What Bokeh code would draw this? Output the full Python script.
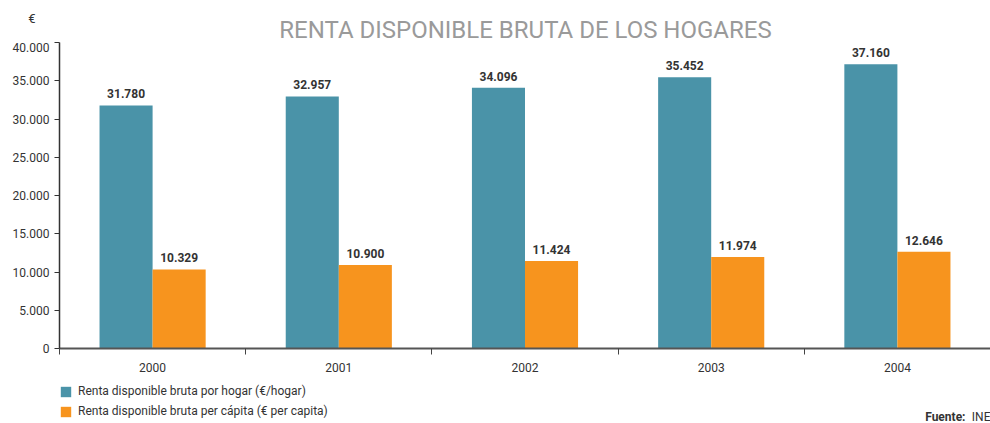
from bokeh.plotting import figure
from bokeh.layouts import column
from bokeh.models import (ColumnDataSource, Range1d, FixedTicker, CustomJSTickFormatter,
                          LabelSet, Label, Legend, LegendItem, LinearAxis)
from bokeh.core.properties import value
from bokeh.embed import file_html
from bokeh.resources import INLINE
import numpy as np

years = ["2000", "2001", "2002", "2003", "2004"]
por_hogar = [31780, 32957, 34096, 35452, 37160]
per_capita = [10329, 10900, 11424, 11974, 12646]
y_ticks = [0, 5000, 10000, 15000, 20000, 25000, 30000, 35000, 40000]
series_names = ["Renta disponible bruta por hogar (€/hogar)",
                "Renta disponible bruta per cápita (€ per capita)"]
title_text = "RENTA DISPONIBLE BRUTA DE LOS HOGARES"
unit_text = "€"

TEAL = "#4A93A8"
ORANGE = "#F7941E"
FONT = "Roboto"
W = 990

def fmt(v):
    return f"{v:,}".replace(",", ".")

def blank(h):
    f = figure(width=W, height=h, output_backend="svg", toolbar_location=None,
               x_range=Range1d(0, 1), y_range=Range1d(0, h),
               x_axis_type=None, y_axis_type=None,
               min_border_left=59, min_border_right=0, min_border_top=0, min_border_bottom=0)
    f.outline_line_color = None
    f.grid.visible = False
    return f

pos = np.arange(len(years)) + 0.5
off = 0.1425
bw = 0.285

src = ColumnDataSource(dict(
    x1=pos - off, x2=pos + off,
    h=por_hogar, c=per_capita,
    lh=[fmt(v) for v in por_hogar], lc=[fmt(v) for v in per_capita],
))

# ---- top: unit + title ----
top = blank(42)
unit_axis = LinearAxis(ticker=FixedTicker(ticks=[24]), major_label_overrides={24: unit_text},
                       axis_line_color=None, major_tick_line_color=None, minor_tick_line_color=None,
                       major_tick_out=0, major_tick_in=0, major_label_standoff=24,
                       major_label_text_font=FONT, major_label_text_font_size="13px",
                       major_label_text_color="#333333")
top.add_layout(unit_axis, "left")
top.add_layout(Label(x=466, y=13, x_units="screen", y_units="screen", text=title_text,
                     text_align="center", text_baseline="middle", text_font=FONT,
                     text_font_size="24px", text_color="#9A9A9A"))

# ---- main chart ----
p = figure(width=W, height=336, output_backend="svg", toolbar_location=None,
           x_range=Range1d(0, len(years)), y_range=Range1d(0, 40000),
           min_border_left=59, min_border_right=0, min_border_top=0, min_border_bottom=30)
p.outline_line_color = None
p.grid.visible = False

p.vbar(x="x1", top="h", width=bw, source=src, fill_color=TEAL, line_color=None)
p.vbar(x="x2", top="c", width=bw, source=src, fill_color=ORANGE, line_color=None)

for xf, yf, tf in (("x1", "h", "lh"), ("x2", "c", "lc")):
    p.add_layout(LabelSet(x=xf, y=yf, text=tf, source=src, y_offset=7, text_align="center",
                          text_baseline="bottom", text_font=value(FONT),
                          text_font_style="bold", text_font_size="12px",
                          text_color="#333333"))

ya = p.yaxis[0]
ya.ticker = FixedTicker(ticks=y_ticks)
ya.formatter = CustomJSTickFormatter(code="return tick.toString().replace(/\\B(?=(\\d{3})+(?!\\d))/g, '.');")
ya.major_tick_out = 5
ya.major_tick_in = 0
ya.minor_tick_line_color = None
ya.axis_line_color = "#333333"
ya.axis_line_width = 1.5
ya.major_tick_line_color = "#333333"
ya.major_label_text_font = FONT
ya.major_label_text_font_size = "12px"
ya.major_label_text_color = "#333333"
ya.major_label_standoff = 5

xa = p.xaxis[0]
xa.ticker = FixedTicker(ticks=list(pos), minor_ticks=list(range(len(years) + 1)))
xa.major_label_overrides = {float(v): y for v, y in zip(pos, years)}
xa.major_tick_line_color = None
xa.minor_tick_out = 6
xa.minor_tick_in = 0
xa.minor_tick_line_color = "#444444"
xa.axis_line_color = "#555555"
xa.axis_line_width = 2
xa.major_label_text_font = FONT
xa.major_label_text_font_size = "12px"
xa.major_label_text_color = "#333333"
xa.major_label_standoff = 8

# ---- bottom: legend and source ----
bot = blank(45)
g1 = bot.vbar(x="x1", top="h", width=bw, source=src, fill_color=TEAL, line_color=None, visible=False)
g2 = bot.vbar(x="x2", top="c", width=bw, source=src, fill_color=ORANGE, line_color=None, visible=False)
legend = Legend(items=[LegendItem(label=series_names[0], renderers=[g1]),
                       LegendItem(label=series_names[1], renderers=[g2])],
                location=(0, 5), orientation="vertical", padding=0, margin=0, spacing=6,
                glyph_width=13, glyph_height=13, label_text_font=FONT,
                label_text_font_size="12px", label_text_color="#333333",
                border_line_color=None, background_fill_alpha=0,
                inactive_fill_alpha=0, label_standoff=6, label_height=13)
bot.add_layout(legend)
bot.add_layout(Label(x=931, y=7, x_units="screen", y_units="screen", text="INE",
                     text_align="right", text_baseline="middle", text_font=FONT,
                     text_font_size="12px", text_color="#333333"))
bot.add_layout(Label(x=906, y=7, x_units="screen", y_units="screen", text="Fuente:",
                     text_align="right", text_baseline="middle", text_font=FONT,
                     text_font_style="bold", text_font_size="12px", text_color="#333333"))

layout = column(top, p, bot, spacing=0)
open("out.html", "w").write(file_html(layout, INLINE))
